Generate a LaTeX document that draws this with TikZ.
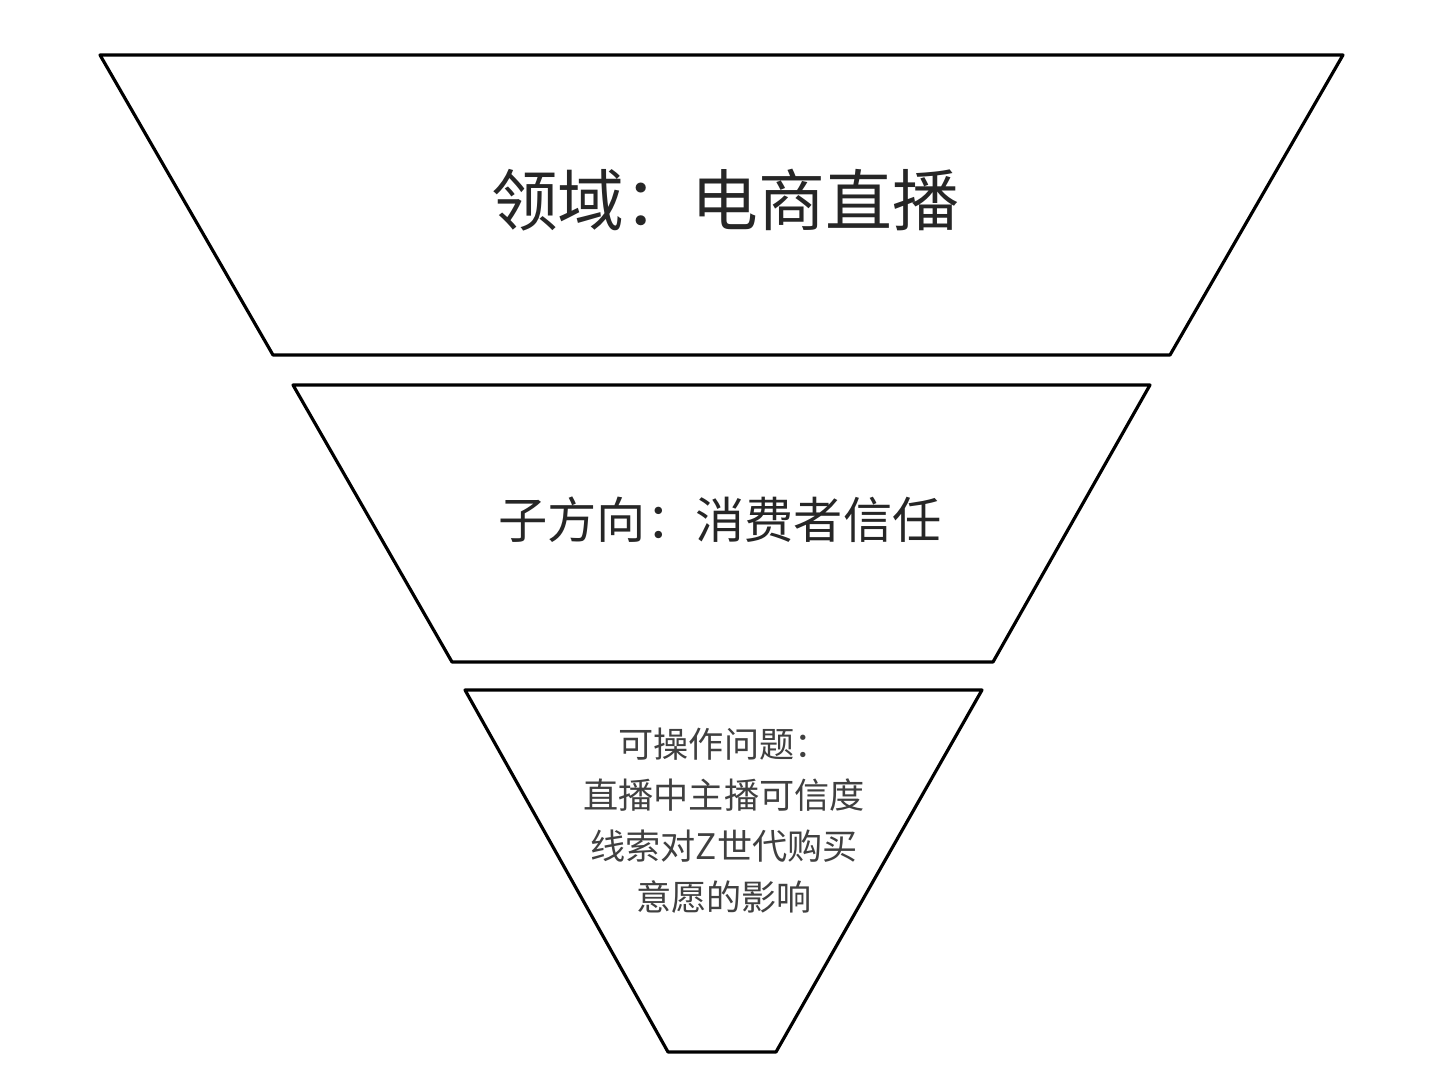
\documentclass[tikz,border=0pt]{standalone}
\usepackage{fontspec}
\newfontfamily\cjk{Noto Sans CJK SC}
\begin{document}
\begin{tikzpicture}[x=0.01cm,y=-0.01cm,
  funnel/.style={draw=black,line width=0.9pt,line join=round,fill=white},
  lbl/.style={font=\cjk,text=black!85,align=center}]
\useasboundingbox (0,0) rectangle (1448,1086);
\draw[funnel] (100,55) -- (1343,55) -- (1170,355) -- (273,355) -- cycle;
\draw[funnel] (293,385) -- (1150,385) -- (993,662) -- (452,662) -- cycle;
\draw[funnel] (465,690) -- (982,690) -- (776,1052) -- (668,1052) -- cycle;
\node[lbl,font=\cjk\fontsize{19}{23}\selectfont] (t1) at (725,200) {领域：电商直播};
\node[lbl,font=\cjk\fontsize{14}{17}\selectfont] (t2) at (720,520) {子方向：消费者信任};
\node[lbl,text=black!75,font=\cjk\fontsize{10}{14.5}\selectfont] (t3) at (724,821) {可操作问题：\\直播中主播可信度\\线索对Z世代购买\\意愿的影响};
\end{tikzpicture}
\end{document}
